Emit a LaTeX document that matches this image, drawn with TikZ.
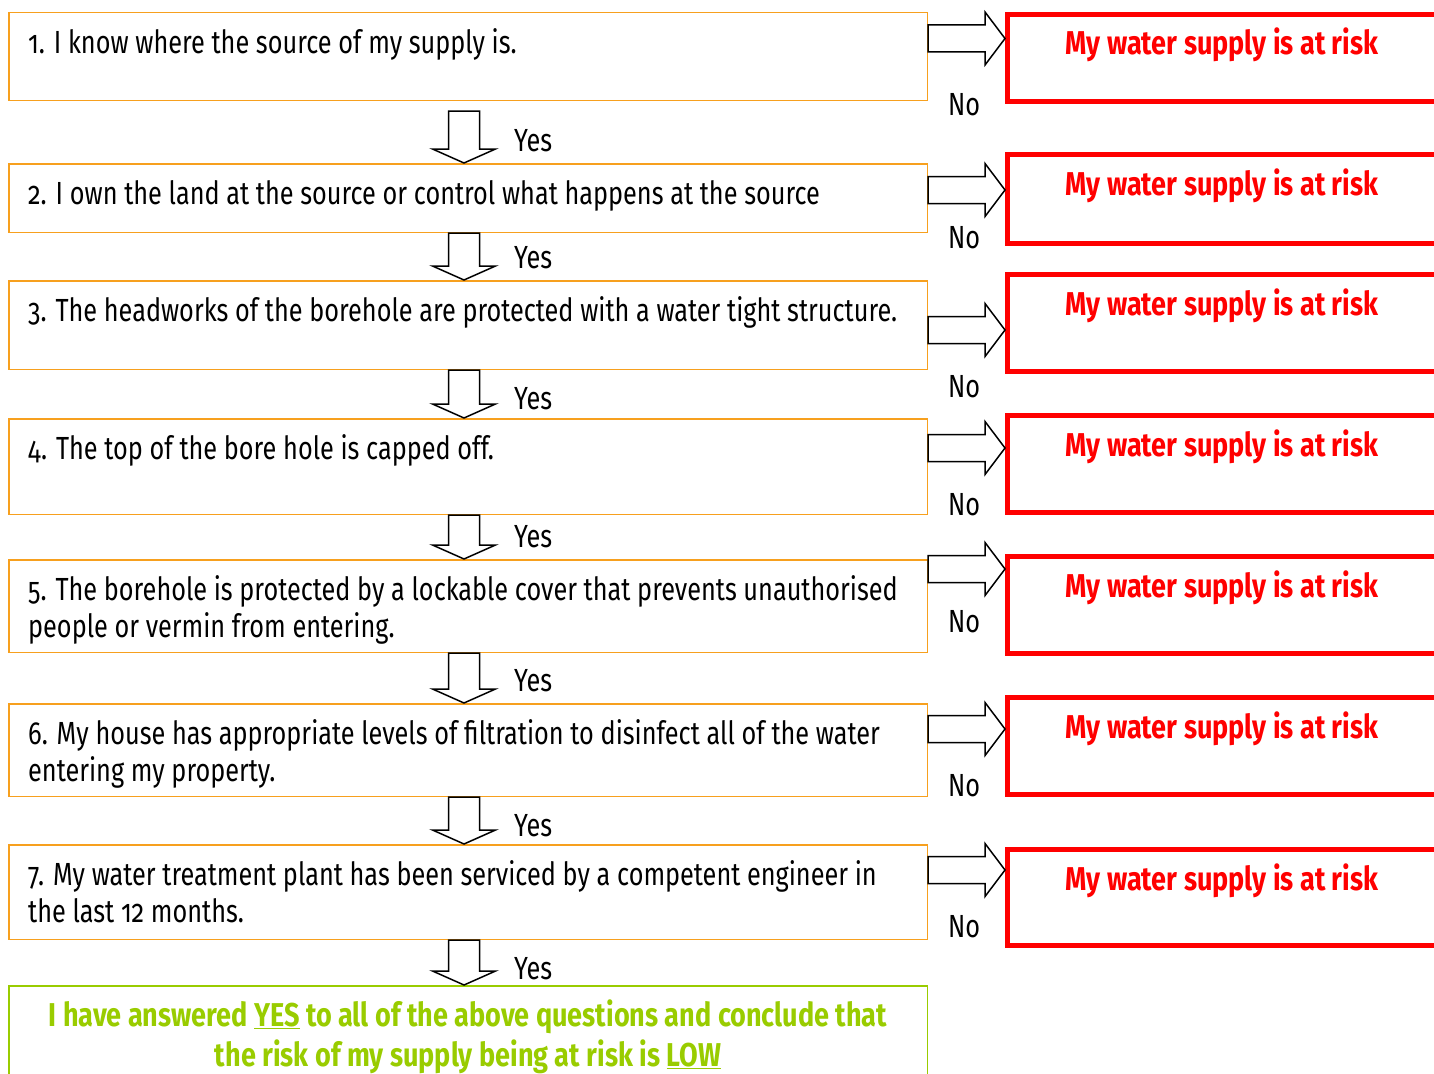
\documentclass[tikz,border=0pt]{standalone}
\usepackage{fontspec}
\setmainfont{Fira Sans}[Numbers=OldStyle,FakeStretch=0.79,BoldFeatures={FakeStretch=0.82}]
\usetikzlibrary{positioning,calc}

\definecolor{qorange}{RGB}{247,160,30}
\definecolor{riskred}{RGB}{255,0,0}
\definecolor{lowgreen}{RGB}{153,204,0}

% block arrow down, from one box to the next
\newcommand{\yesarrow}[2]{%
  \draw[blockarrow] let \p1=(#1), \p2=(#2) in
    (\x1-15.5pt,\y1) -- (\x1-15.5pt,\y2+14pt) -- (\x1-31.5pt,\y2+14pt)
    -- (\x1,\y2) -- (\x1+31.5pt,\y2+14pt) -- (\x1+15.5pt,\y2+14pt)
    -- (\x1+15.5pt,\y1) -- cycle;}
% block arrow right, question box to risk box, at height #3
\newcommand{\noarrow}[3]{%
  \draw[blockarrow] let \p1=(#1.east), \p2=(#2.west) in
    (\x1,-#3pt+13.5pt) -- (\x2-20pt,-#3pt+13.5pt) -- (\x2-20pt,-#3pt+26.5pt)
    -- (\x2,-#3pt) -- (\x2-20pt,-#3pt-26.5pt) -- (\x2-20pt,-#3pt-13.5pt)
    -- (\x1,-#3pt-13.5pt) -- cycle;}

\begin{document}
\begin{tikzpicture}[x=1pt, y=-1pt,
    qbox/.style={draw=qorange, line width=1.5pt, anchor=north west, minimum width=918.5pt, inner sep=0pt},
    lowbox/.style={qbox, draw=lowgreen},
    qtext/.style={anchor=north west, inner sep=0pt, align=left, font=\fontsize{32pt}{37pt}\selectfont},
    lowtext/.style={anchor=north, inner sep=0pt, align=center, text=lowgreen, font=\fontsize{33pt}{40pt}\selectfont\bfseries},
    riskbox/.style={draw=riskred, line width=5pt, anchor=north west, minimum width=440pt, inner sep=0pt},
    risktext/.style={anchor=base, inner sep=0pt, text=riskred, font=\fontsize{33pt}{37pt}\selectfont\bfseries},
    lbl/.style={anchor=base west, inner sep=0pt, font=\fontsize{32pt}{37pt}\selectfont},
    blockarrow/.style={draw=black, line width=1.5pt, fill=white, line join=miter}]
  \useasboundingbox (0,0) rectangle (1434,1073);

  % questions
  \node[qbox, minimum height=87.5pt] (q1) at (8,12) {};
  \node[qbox, minimum height=68.5pt] (q2) at (8,163) {};
  \node[qbox, minimum height=88.5pt] (q3) at (8,280) {};
  \node[qbox, minimum height=95.5pt] (q4) at (8,418) {};
  \node[qbox, minimum height=92.5pt] (q5) at (8,559) {};
  \node[qbox, minimum height=92.5pt] (q6) at (8,703) {};
  \node[qbox, minimum height=94.5pt] (q7) at (8,844) {};
  \node[lowbox, minimum height=110pt] (q8) at (8,985) {};

  \node[qtext] at ([shift={(20pt,-15pt)}]q1.north west) {\strut 1. I know where the source of my supply is.};
  \node[qtext] at ([shift={(20pt,-15pt)}]q2.north west) {\strut 2. I own the land at the source or control what happens at the source};
  \node[qtext] at ([shift={(20pt,-15pt)}]q3.north west) {\strut 3. The headworks of the borehole are protected with a water tight structure.};
  \node[qtext] at ([shift={(20pt,-15pt)}]q4.north west) {\strut 4. The top of the bore hole is capped off.};
  \node[qtext] at ([shift={(20pt,-15pt)}]q5.north west) {\strut 5. The borehole is protected by a lockable cover that prevents unauthorised\\ people or vermin from entering.};
  \node[qtext] at ([shift={(20pt,-15pt)}]q6.north west) {\strut 6. My house has appropriate levels of filtration to disinfect all of the water\\ entering my property.};
  \node[qtext] at ([shift={(20pt,-15pt)}]q7.north west) {\strut 7. My water treatment plant has been serviced by a competent engineer in\\ the last 12 months.};
  \node[lowtext] at ([yshift=-13pt]q8.north) {\strut I have answered \underline{YES} to all of the above questions and conclude that\\ the risk of my supply being at risk is \underline{LOW}};

  % risk boxes
  \node[riskbox, minimum height=87pt] (r1) at (1005,12) {};
  \node[riskbox, minimum height=89pt] (r2) at (1005,152) {};
  \node[riskbox, minimum height=97pt] (r3) at (1005,272) {};
  \node[riskbox, minimum height=97pt] (r4) at (1005,413) {};
  \node[riskbox, minimum height=97pt] (r5) at (1005,554) {};
  \node[riskbox, minimum height=97pt] (r6) at (1005,695) {};
  \node[riskbox, minimum height=96pt] (r7) at (1005,847) {};
  \foreach \r in {r1,r2,r3,r4,r5,r6,r7}
    \node[risktext] at ([shift={(-5.5pt,-43pt)}]\r.north) {My water supply is at risk};

  % yes arrows
  \yesarrow{[xshift=-4pt,yshift=-10pt]q1.south}{[xshift=-4pt]q2.north}
  \yesarrow{[xshift=-4pt]q2.south}{[xshift=-4pt]q3.north}
  \yesarrow{[xshift=-4pt]q3.south}{[xshift=-4pt]q4.north}
  \yesarrow{[xshift=-4pt]q4.south}{[xshift=-4pt]q5.north}
  \yesarrow{[xshift=-4pt]q5.south}{[xshift=-4pt]q6.north}
  \yesarrow{[xshift=-4pt]q6.south}{[xshift=-4pt]q7.north}
  \yesarrow{[xshift=-4pt]q7.south}{[xshift=-4pt]q8.north}
  \node[lbl] (y1) at (514,151) {Yes};
  \node[lbl] (y2) at (514,268) {Yes};
  \node[lbl] (y3) at (514,409) {Yes};
  \node[lbl] (y4) at (514,547) {Yes};
  \node[lbl] (y5) at (514,691) {Yes};
  \node[lbl] (y6) at (514,836) {Yes};
  \node[lbl] (y7) at (514,979) {Yes};

  % no arrows
  \noarrow{q1}{r1}{38.5}
  \noarrow{q2}{r2}{190}
  \noarrow{q3}{r3}{330}
  \noarrow{q4}{r4}{448}
  \noarrow{q5}{r5}{569}
  \noarrow{q6}{r6}{729}
  \noarrow{q7}{r7}{870}
  \node[lbl] (n1) at (948,115) {No};
  \node[lbl] (n2) at (948,248) {No};
  \node[lbl] (n3) at (948,397) {No};
  \node[lbl] (n4) at (948,515) {No};
  \node[lbl] (n5) at (948,632) {No};
  \node[lbl] (n6) at (948,796) {No};
  \node[lbl] (n7) at (948,937) {No};
\end{tikzpicture}
\end{document}
